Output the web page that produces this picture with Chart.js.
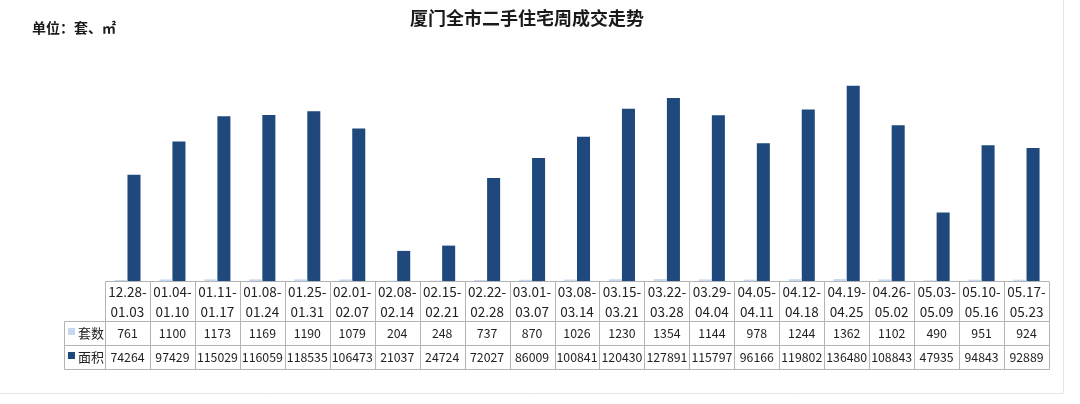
<!DOCTYPE html>
<html>
<head>
<meta charset="utf-8">
<script src="https://cdn.jsdelivr.net/npm/chart.js@4/dist/chart.umd.min.js"></script>
<style>
  html, body { margin: 0; padding: 0; background: #fff; }
  #wrap { width: 1080px; height: 404px; position: relative; }
</style>
</head>
<body>
<div id="wrap"><canvas id="c" width="1080" height="404"></canvas></div>
<script>
const titleText = '厦门全市二手住宅周成交走势';
const unitText = '单位：套、㎡';
const categories = [
  ['12.28-','01.03'], ['01.04-','01.10'], ['01.11-','01.17'], ['01.08-','01.24'],
  ['01.25-','01.31'], ['02.01-','02.07'], ['02.08-','02.14'], ['02.15-','02.21'],
  ['02.22-','02.28'], ['03.01-','03.07'], ['03.08-','03.14'], ['03.15-','03.21'],
  ['03.22-','03.28'], ['03.29-','04.04'], ['04.05-','04.11'], ['04.12-','04.18'],
  ['04.19-','04.25'], ['04.26-','05.02'], ['05.03-','05.09'], ['05.10-','05.16'],
  ['05.17-','05.23']
];
const seriesNames = ['套数', '面积'];
const units = [761, 1100, 1173, 1169, 1190, 1079, 204, 248, 737, 870, 1026, 1230, 1354, 1144, 978, 1244, 1362, 1102, 490, 951, 924];
const area = [74264, 97429, 115029, 116059, 118535, 106473, 21037, 24724, 72027, 86009, 100841, 120430, 127891, 115797, 96166, 119802, 136480, 108843, 47935, 94843, 92889];
const yMax = 160000;

const FONT = '"Noto Sans CJK SC", "Noto Sans", sans-serif';
const colors = ['#C6D9F1', '#1F497D'];

const tablePlugin = {
  id: 'tablePlugin',
  beforeDraw(chart) {
    const ctx = chart.ctx;
    ctx.save();
    ctx.strokeStyle = '#E6E6E6';
    ctx.lineWidth = 1;
    ctx.beginPath();
    ctx.moveTo(0, 393.5); ctx.lineTo(1063.5, 393.5);
    ctx.moveTo(1063.5, 0); ctx.lineTo(1063.5, 393.5);
    ctx.stroke();
    ctx.restore();
  },
  afterDraw(chart) {
    const ctx = chart.ctx;
    const ca = chart.chartArea;
    const xs = chart.scales.x;
    const n = chart.data.labels.length;
    const colW = (ca.right - ca.left) / n;
    const top = ca.bottom;
    const r1 = top + 40, r2 = r1 + 24, r3 = r2 + 24;
    const legL = ca.left - 41;
    ctx.save();
    ctx.strokeStyle = '#B4B4B4';
    ctx.lineWidth = 1;
    ctx.beginPath();
    const px = v => Math.round(v) + 0.5;
    ctx.moveTo(px(ca.left), px(top)); ctx.lineTo(px(ca.right), px(top));
    [r1, r2, r3].forEach(y => { ctx.moveTo(px(legL), px(y)); ctx.lineTo(px(ca.right), px(y)); });
    ctx.moveTo(px(legL), px(r1)); ctx.lineTo(px(legL), px(r3));
    for (let k = 0; k <= n; k++) {
      const x = px(ca.left + k * colW);
      ctx.moveTo(x, px(top)); ctx.lineTo(x, px(r3));
    }
    ctx.stroke();

    const rows = [[r1, r2], [r2, r3]];
    chart.data.datasets.forEach((ds, i) => {
      const yc = (rows[i][0] + rows[i][1]) / 2;
      ctx.fillStyle = ds.backgroundColor;
      ctx.fillRect(legL + 4, yc - 5, 7, 7);
      ctx.fillStyle = '#222';
      ctx.font = '13px ' + FONT;
      ctx.textAlign = 'left';
      ctx.textBaseline = 'middle';
      ctx.fillText(ds.label, legL + 14, yc);
      ctx.textAlign = 'center';
      ctx.font = '12.3px ' + FONT;
      ds.data.forEach((v, j) => {
        ctx.fillText(String(v), xs.getPixelForValue(j), yc);
      });
    });

    ctx.fillStyle = '#1A1A1A';
    ctx.font = 'bold 18px ' + FONT;
    ctx.textAlign = 'center';
    ctx.textBaseline = 'middle';
    ctx.fillText(titleText, 527, 18);
    ctx.font = 'bold 14px ' + FONT;
    ctx.textAlign = 'left';
    ctx.fillText(unitText, 32, 28);
    ctx.restore();
  }
};

new Chart(document.getElementById('c'), {
  type: 'bar',
  data: {
    labels: categories,
    datasets: [
      { label: seriesNames[0], data: units, backgroundColor: colors[0] },
      { label: seriesNames[1], data: area, backgroundColor: colors[1] }
    ]
  },
  options: {
    responsive: false,
    animation: false,
    devicePixelRatio: 1,
    layout: { padding: { left: 105, right: 31, top: 52, bottom: 0 } },
    datasets: { bar: { categoryPercentage: 0.58, barPercentage: 1.0 } },
    plugins: {
      legend: { display: false },
      title: { display: false },
      tooltip: { enabled: false }
    },
    scales: {
      x: {
        grid: { display: false, drawTicks: false },
        border: { display: false },
        ticks: {
          autoSkip: false, maxRotation: 0, minRotation: 0, padding: 1,
          color: '#222', font: { family: FONT, size: 13.5, lineHeight: 1.48 }
        },
        afterFit(scale) { scale.height = 123; }
      },
      y: {
        display: false,
        min: 0, max: yMax,
        grid: { display: false }
      }
    }
  },
  plugins: [tablePlugin]
});
</script>
</body>
</html>
